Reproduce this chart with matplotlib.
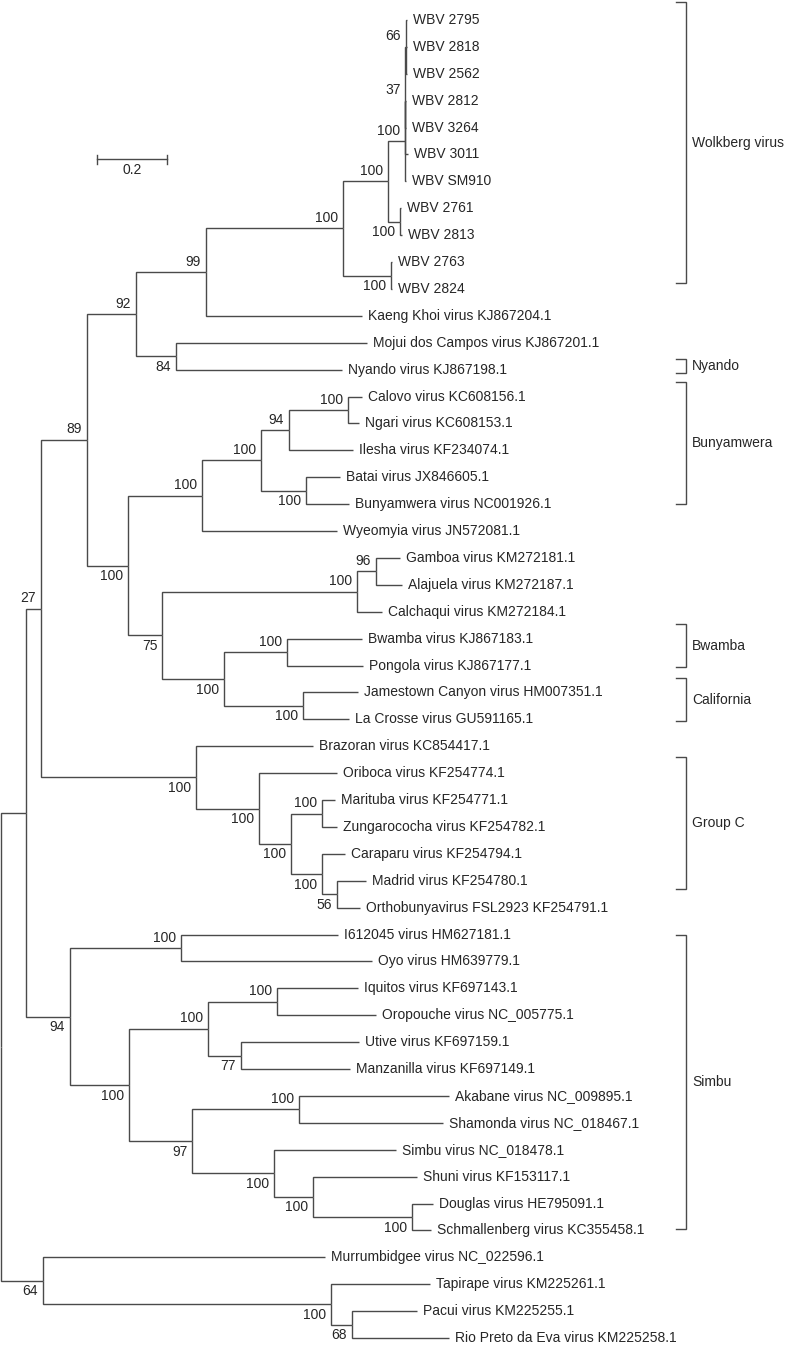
import matplotlib
matplotlib.use('Agg')
import matplotlib.pyplot as plt

plt.rcParams['font.family'] = ['Liberation Sans', 'DejaVu Sans']

# 잎(leaf) 이름과 루트로부터의 거리 (치환/사이트)
LEAVES = [
    'WBV 2795', 'WBV 2818', 'WBV 2562', 'WBV 2812', 'WBV 3264', 'WBV 3011',
    'WBV SM910', 'WBV 2761', 'WBV 2813', 'WBV 2763', 'WBV 2824',
    'Kaeng Khoi virus KJ867204.1', 'Mojui dos Campos virus KJ867201.1',
    'Nyando virus KJ867198.1', 'Calovo virus KC608156.1', 'Ngari virus KC608153.1',
    'Ilesha virus KF234074.1', 'Batai virus JX846605.1',
    'Bunyamwera virus NC001926.1', 'Wyeomyia virus JN572081.1',
    'Gamboa virus KM272181.1', 'Alajuela virus KM272187.1',
    'Calchaqui virus KM272184.1', 'Bwamba virus KJ867183.1',
    'Pongola virus KJ867177.1', 'Jamestown Canyon virus HM007351.1',
    'La Crosse virus GU591165.1', 'Brazoran virus KC854417.1',
    'Oriboca virus KF254774.1', 'Marituba virus KF254771.1',
    'Zungarococha virus KF254782.1', 'Caraparu virus KF254794.1',
    'Madrid virus KF254780.1', 'Orthobunyavirus FSL2923 KF254791.1',
    'I612045 virus HM627181.1', 'Oyo virus HM639779.1', 'Iquitos virus KF697143.1',
    'Oropouche virus NC_005775.1', 'Utive virus KF697159.1',
    'Manzanilla virus KF697149.1', 'Akabane virus NC_009895.1',
    'Shamonda virus NC_018467.1', 'Simbu virus NC_018478.1',
    'Shuni virus KF153117.1', 'Douglas virus HE795091.1',
    'Schmallenberg virus KC355458.1', 'Murrumbidgee virus NC_022596.1',
    'Tapirape virus KM225261.1', 'Pacui virus KM225255.1',
    'Rio Preto da Eva virus KM225258.1',
]
LEAF_DEPTH = [
    1.1586, 1.1586, 1.1586, 1.1580, 1.1580, 1.1623, 1.1580, 1.1429, 1.1443,
    1.1171, 1.1171, 1.0306, 1.0449, 0.9734, 1.0300, 1.0237, 1.0066, 0.9686,
    0.9951, 0.9591, 1.1400, 1.1449, 1.0877, 1.0306, 1.0351, 1.0209, 0.9957,
    0.8923, 0.9591, 0.9543, 0.9609, 0.9829, 1.0429, 1.0257, 0.9629, 1.0591,
    1.0209, 1.0714, 1.0237, 0.9971, 1.2809, 1.2620, 1.1286, 1.1877, 1.2351,
    1.2286, 0.9257, 1.2257, 1.1877, 1.2800,
]

# 내부 노드: 이름, 깊이, 부트스트랩 값, 자식
NODES = ['root', 'a', 'b', 'tap', 'pac', 'c', 'e', 'g', 'i', 'wbv', 'wa', 'wb',
         'w37', 'w66', 'w2761', 'w2763', 'j', 'h', 'k', 'l', 'm', 'cal', 'bat',
         'o', 's', 't', 'q', 'p', 'r', 'f', 'u', 'v', 'w', 'x', 'y', 'd', 'z',
         'aa', 'ab', 'ac', 'ad', 'ae', 'af', 'ag', 'ah', 'ai']
NODE_DEPTH = [0.0, 0.0706, 0.1191, 0.9429, 1.0029, 0.1134, 0.2449, 0.3857,
              0.5849, 0.9763, 1.1066, 1.1543, 1.1557, 1.1566, 1.1400, 1.1134,
              0.5000, 0.3637, 0.5751, 0.7429, 0.8220, 0.9906, 0.8706, 0.4609,
              1.0163, 1.0706, 0.6380, 0.8180, 0.8620, 0.5563, 0.7380, 0.8286,
              0.9180, 0.9163, 0.9591, 0.1963, 0.5143, 0.3666, 0.5923, 0.7877,
              0.6849, 0.5466, 0.8514, 0.7800, 0.8923, 1.1734]
NODE_SUPPORT = ['', '', '64', '100', '68', '27', '89', '92', '99', '100', '100',
                '100', '37', '66', '100', '100', '84', '100', '100', '100', '94',
                '100', '100', '75', '100', '96', '100', '100', '100', '100', '100',
                '100', '100', '100', '56', '94', '100', '100', '100', '100', '77',
                '97', '100', '100', '100', '100']
NODE_CHILDREN = [
    ['a', 'b'], ['c', 'd'],
    ['Murrumbidgee virus NC_022596.1', 'tap'],
    ['Tapirape virus KM225261.1', 'pac'],
    ['Pacui virus KM225255.1', 'Rio Preto da Eva virus KM225258.1'],
    ['e', 'f'], ['g', 'h'], ['i', 'j'],
    ['wbv', 'Kaeng Khoi virus KJ867204.1'],
    ['wa', 'w2763'], ['wb', 'w2761'], ['w37', 'WBV SM910'],
    ['w66', 'WBV 2812', 'WBV 3264', 'WBV 3011'],
    ['WBV 2795', 'WBV 2818', 'WBV 2562'],
    ['WBV 2761', 'WBV 2813'], ['WBV 2763', 'WBV 2824'],
    ['Mojui dos Campos virus KJ867201.1', 'Nyando virus KJ867198.1'],
    ['k', 'o'], ['l', 'Wyeomyia virus JN572081.1'], ['m', 'bat'],
    ['cal', 'Ilesha virus KF234074.1'],
    ['Calovo virus KC608156.1', 'Ngari virus KC608153.1'],
    ['Batai virus JX846605.1', 'Bunyamwera virus NC001926.1'],
    ['s', 'q'], ['t', 'Calchaqui virus KM272184.1'],
    ['Gamboa virus KM272181.1', 'Alajuela virus KM272187.1'],
    ['p', 'r'],
    ['Bwamba virus KJ867183.1', 'Pongola virus KJ867177.1'],
    ['Jamestown Canyon virus HM007351.1', 'La Crosse virus GU591165.1'],
    ['Brazoran virus KC854417.1', 'u'], ['Oriboca virus KF254774.1', 'v'],
    ['w', 'x'],
    ['Marituba virus KF254771.1', 'Zungarococha virus KF254782.1'],
    ['Caraparu virus KF254794.1', 'y'],
    ['Madrid virus KF254780.1', 'Orthobunyavirus FSL2923 KF254791.1'],
    ['z', 'aa'], ['I612045 virus HM627181.1', 'Oyo virus HM639779.1'],
    ['ab', 'ae'], ['ac', 'ad'],
    ['Iquitos virus KF697143.1', 'Oropouche virus NC_005775.1'],
    ['Utive virus KF697159.1', 'Manzanilla virus KF697149.1'],
    ['af', 'ag'],
    ['Akabane virus NC_009895.1', 'Shamonda virus NC_018467.1'],
    ['Simbu virus NC_018478.1', 'ah'], ['Shuni virus KF153117.1', 'ai'],
    ['Douglas virus HE795091.1', 'Schmallenberg virus KC355458.1'],
]

# 오른쪽 그룹 괄호 (잎 인덱스 단위 범위)
CLADE_NAMES = ['Wolkberg virus', 'Nyando', 'Bunyamwera', 'Bwamba', 'California',
               'Group C', 'Simbu']
CLADE_TOP = [-0.67, 12.61, 13.47, 22.45, 24.47, 27.41, 34.01]
CLADE_BOTTOM = [9.78, 13.11, 17.99, 24.06, 26.06, 32.32, 44.96]

SCALE_LEN = 0.2

W, H = 787, 1347
X0, XS = 1, 350.0      # 루트 픽셀 위치, 단위당 픽셀
Y0, YS = 20, 26.9      # 첫 잎 픽셀 위치, 잎 간격
PX, PY = 1 / XS, 1 / YS

LINE = '#4a4a4a'
TEXT = '#262626'
FS = 10

fig = plt.figure(figsize=(W / 100, H / 100), dpi=100, facecolor='white')
ax = fig.add_axes([0, 0, 1, 1])
ax.set_xlim(-X0 / XS, (W - X0) / XS)
ax.set_ylim((H - Y0) / YS, -Y0 / YS)
ax.axis('off')

depth = dict(zip(LEAVES, LEAF_DEPTH))
depth.update(zip(NODES, NODE_DEPTH))
ypos = {name: i for i, name in enumerate(LEAVES)}
children = dict(zip(NODES, NODE_CHILDREN))
support = dict(zip(NODES, NODE_SUPPORT))


def node_y(n):
    if n not in ypos:
        kids = children[n]
        ypos[n] = (node_y(kids[0]) + node_y(kids[-1])) / 2
    return ypos[n]


node_y('root')

# 가지 그리기
for n in NODES:
    kids = children[n]
    for k in kids:
        ax.plot([depth[n], depth[n], depth[k]], [ypos[n], ypos[k], ypos[k]],
                color=LINE, lw=1.0, solid_joinstyle='miter', solid_capstyle='butt')
    # 지지도 라벨
    for pos, k in enumerate(kids):
        if k in support and support[k]:
            dy = -10.5 * PY if pos == 0 else 10.5 * PY
            ax.text(depth[k] - 5 * PX, ypos[k] + dy, support[k], ha='right',
                    va='center', fontsize=FS, color=TEXT)

# 잎 라벨
for name in LEAVES:
    ax.text(depth[name] + 6 * PX, ypos[name], name, ha='left', va='center',
            fontsize=FS, color=TEXT)

# 스케일 바
sx = (96.7 - X0) / XS
sy = (159.3 - Y0) / YS
ax.plot([sx, sx + SCALE_LEN], [sy, sy], color=LINE, lw=1.0)
for xx in (sx, sx + SCALE_LEN):
    ax.plot([xx, xx], [sy - 4.5 * PY, sy + 4.5 * PY], color=LINE, lw=1.0)
ax.text(sx + SCALE_LEN / 2, sy + 11 * PY, f'{SCALE_LEN}', ha='center',
        va='center', fontsize=FS, color=TEXT)

# 그룹 괄호
bx = (686 - X0) / XS
for name, top, bot in zip(CLADE_NAMES, CLADE_TOP, CLADE_BOTTOM):
    ax.plot([bx - 10 * PX, bx, bx, bx - 10 * PX], [top, top, bot, bot],
            color=LINE, lw=1.0, solid_joinstyle='miter')
    ax.text(bx + 6 * PX, (top + bot) / 2, name, ha='left', va='center',
            fontsize=FS, color=TEXT)

fig.savefig('out.png', dpi=100, facecolor='white')
